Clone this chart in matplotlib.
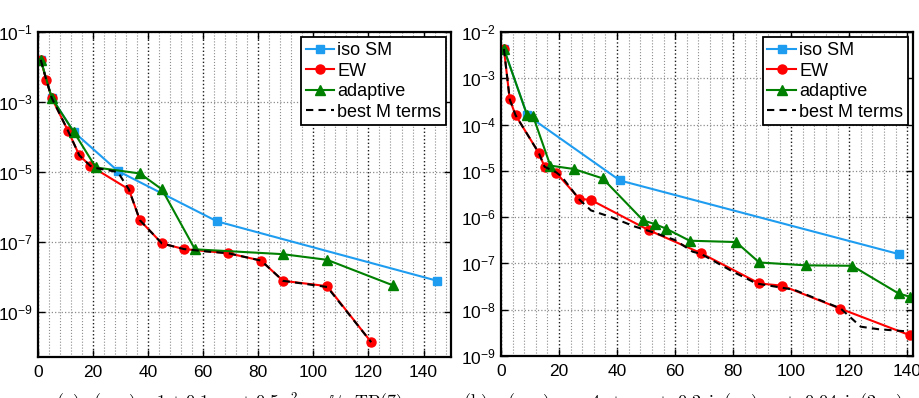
import matplotlib
matplotlib.use("Agg")

import matplotlib.pyplot as plt
from matplotlib.ticker import MultipleLocator, NullLocator

plt.rcParams["font.family"] = ["Liberation Sans", "DejaVu Sans"]
plt.rcParams["mathtext.fontset"] = "custom"
plt.rcParams["mathtext.rm"] = "Liberation Sans"
plt.rcParams["mathtext.it"] = "Liberation Sans:italic"
plt.rcParams["mathtext.bf"] = "Liberation Sans:bold"

# (a) 왼쪽 패널 데이터
a_iso_x = [1, 5, 13, 29, 65, 145]
a_iso_y = [1.6e-2, 1.3e-3, 1.4e-4, 1.07e-5, 3.9e-7, 7.8e-9]
a_ew_x = [1, 3, 5, 11, 15, 19, 33, 37, 45, 53, 69, 81, 89, 105, 121]
a_ew_y = [1.6e-2, 4.3e-3, 1.3e-3, 1.45e-4, 3.0e-5, 1.5e-5, 3.2e-6, 4.2e-7,
          9.1e-8, 6.3e-8, 4.8e-8, 2.95e-8, 7.8e-9, 5.5e-9, 1.38e-10]
a_ad_x = [1, 5, 13, 21, 37, 45, 57, 89, 105, 129]
a_ad_y = [1.6e-2, 1.3e-3, 1.4e-4, 1.35e-5, 9.1e-6, 3.2e-6, 6.2e-8, 4.5e-8,
          3.1e-8, 5.75e-9]
a_best_x = [1, 3, 5, 11, 15, 19, 21, 29, 31, 33, 37, 45, 53, 61, 69, 81, 89,
            105, 121]
a_best_y = [1.6e-2, 4.3e-3, 1.3e-3, 1.45e-4, 3.0e-5, 1.5e-5, 1.3e-5, 1.0e-5,
            5.6e-6, 3.2e-6, 4.2e-7, 9.1e-8, 6.3e-8, 5.4e-8, 4.8e-8, 2.95e-8,
            7.8e-9, 5.2e-9, 1.38e-10]

# (b) 오른쪽 패널 데이터
b_iso_x = [1, 9, 41, 137]
b_iso_y = [4.3e-3, 1.6e-4, 6.2e-6, 1.6e-7]
b_ew_x = [1, 3, 5, 13, 15, 19, 27, 31, 51, 69, 89, 97, 117, 141]
b_ew_y = [4.3e-3, 3.5e-4, 1.6e-4, 2.45e-5, 1.23e-5, 9.1e-6, 2.5e-6, 2.35e-6,
          5.2e-7, 1.66e-7, 3.7e-8, 3.3e-8, 1.05e-8, 2.8e-9]
b_ad_x = [1, 9, 11, 17, 25, 35, 49, 53, 57, 65, 81, 89, 105, 121, 137, 141]
b_ad_y = [4.3e-3, 1.6e-4, 1.55e-4, 1.3e-5, 1.1e-5, 6.9e-6, 8.5e-7, 7.1e-7,
          5.6e-7, 3.1e-7, 2.9e-7, 1.05e-7, 9.1e-8, 8.9e-8, 2.25e-8, 1.9e-8]
b_best_x = [1, 3, 5, 13, 15, 19, 21, 25, 27, 31, 38, 46, 52, 60, 66, 69, 80,
            88, 101, 117, 124, 130, 140]
b_best_y = [4.3e-3, 3.5e-4, 1.6e-4, 2.45e-5, 1.23e-5, 9.3e-6, 7.4e-6, 3.5e-6,
            2.4e-6, 1.4e-6, 1.0e-6, 6.3e-7, 4.8e-7, 3.2e-7, 1.8e-7, 1.6e-7,
            6.6e-8, 3.7e-8, 2.7e-8, 1.07e-8, 4.3e-9, 3.8e-9, 3.4e-9]

labels = ["iso SM", "EW", "adaptive", "best M terms"]
C_ISO = "#1e9cf0"
C_EW = "#ff0000"
C_AD = "#008000"

a_yticks = [1e-9, 1e-7, 1e-5, 1e-3, 1e-1]
b_yticks = [1e-9, 1e-8, 1e-7, 1e-6, 1e-5, 1e-4, 1e-3, 1e-2]


def draw_panel(ax, iso, ew, ad, best, xmax, ylim, yticks):
    ax.plot(*iso, color=C_ISO, lw=1.5, marker="s", ms=5.5, label=labels[0])
    ax.plot(*ew, color=C_EW, lw=1.5, marker="o", ms=6.5, label=labels[1])
    ax.plot(*ad, color=C_AD, lw=1.5, marker="^", ms=7.5, label=labels[2])
    ax.plot(*best, color="black", lw=1.5, ls=(0, (3.5, 2.5)), label=labels[3],
            zorder=5)
    ax.set_yscale("log")
    ax.set_xlim(0, xmax)
    ax.set_ylim(*ylim)
    ax.set_yticks(yticks)
    ax.yaxis.set_minor_locator(NullLocator())
    ax.xaxis.set_major_locator(MultipleLocator(20))
    ax.xaxis.set_minor_locator(MultipleLocator(4))
    ax.tick_params(which="both", direction="in", top=True, right=True,
                   labelsize=12.5)
    ax.tick_params(which="major", length=5, width=1)
    ax.tick_params(which="minor", length=0)
    ax.tick_params(axis="x", pad=6)
    ax.xaxis.grid(True, which="major", color="0.1", ls=":", lw=1.0)
    ax.xaxis.grid(True, which="minor", color="0.55", ls=":", lw=0.8)
    ax.yaxis.grid(True, which="major", color="0.55", ls=":", lw=0.9)
    ax.set_axisbelow(True)
    for s in ax.spines.values():
        s.set_linewidth(1.6)
    leg = ax.legend(loc="upper right", fontsize=13, frameon=True, fancybox=False,
                    framealpha=1, edgecolor="black", borderaxespad=0.3,
                    handlelength=1.6, handletextpad=0.15, labelspacing=0.2,
                    borderpad=0.25)
    leg.get_frame().set_linewidth(1.3)


fig = plt.figure(figsize=(9.2, 3.98), dpi=100)
ax1 = fig.add_axes([0.0413, 0.103, 0.449, 0.8166])
ax2 = fig.add_axes([0.5446, 0.1055, 0.4478, 0.814])

draw_panel(ax1, (a_iso_x, a_iso_y), (a_ew_x, a_ew_y), (a_ad_x, a_ad_y),
           (a_best_x, a_best_y), 150, (5.2e-11, 1e-1), a_yticks)
draw_panel(ax2, (b_iso_x, b_iso_y), (b_ew_x, b_ew_y), (b_ad_x, b_ad_y),
           (b_best_x, b_best_y), 142, (1e-9, 1e-2), b_yticks)

# 그림 아래 캡션 (원본처럼 아래쪽이 잘려 보임)
fig.text(0.061, 0.018,
         r"$\mathrm{(a)}\ a(x,\mathbf{y}) = 1 + 0.1xy_1 + 0.5x^2y_2,\ \mathbb{U}\!=\!\mathrm{TP}(7)$",
         fontsize=13, va="top", ha="left", math_fontfamily="cm")
fig.text(0.503, 0.018,
         r"$\mathrm{(b)}\ \ a(x,\mathbf{y})\ \ =\ \ 4\ +\ y_1\ +\ 0.2\sin(\pi x)y_2\ +\ 0.04\sin(2\pi x)y_3\ +\ \cdots$",
         fontsize=13, va="top", ha="left", math_fontfamily="cm")

fig.savefig("out.png", dpi=100)
plt.close(fig)
